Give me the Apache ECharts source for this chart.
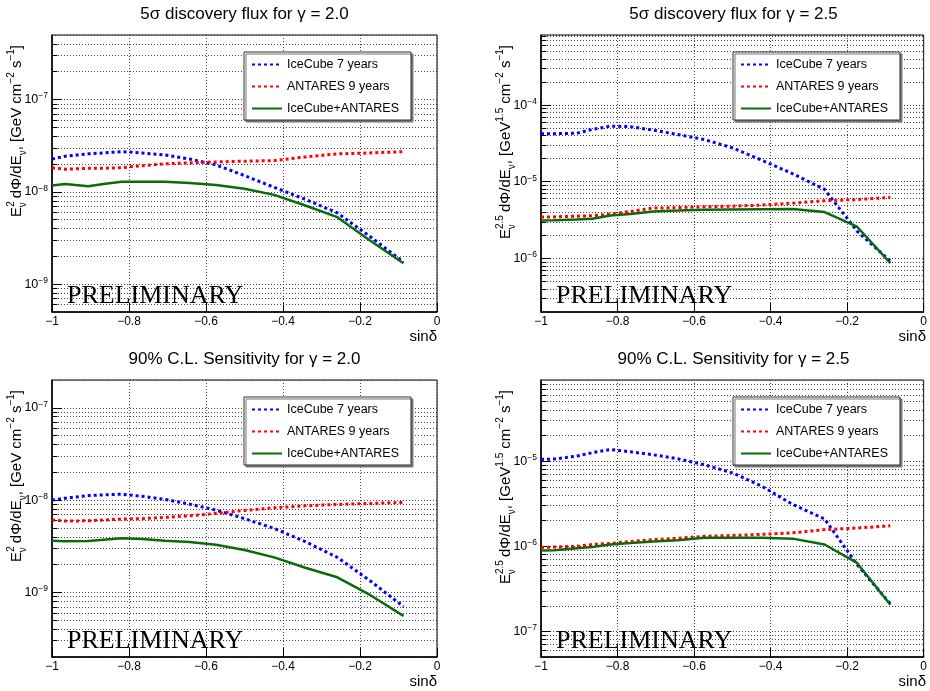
<!DOCTYPE html>
<html>
<head>
<meta charset="utf-8">
<script src="https://cdn.jsdelivr.net/npm/echarts@6/dist/echarts.min.js"></script>
<style>
html, body { margin: 0; padding: 0; background: #fff; }
#main { width: 930px; height: 691px; }
</style>
</head>
<body>
<div id="main"></div>
<script>
// sin(declination) of the computed points
var sinDec = [-1, -0.966, -0.906, -0.866, -0.819, -0.766, -0.707, -0.643, -0.574, -0.5, -0.423, -0.342, -0.259, -0.174, -0.087];

// 5 sigma discovery flux, gamma = 2.0
var ic7Disc20  = [2.27e-8, 2.43e-8, 2.58e-8, 2.64e-8, 2.73e-8, 2.64e-8, 2.51e-8, 2.27e-8, 1.96e-8, 1.5e-8, 1.12e-8, 8.3e-9, 5.93e-9, 3.29e-9, 1.74e-9];
var ant9Disc20 = [1.82e-8, 1.76e-8, 1.8e-8, 1.8e-8, 1.83e-8, 1.92e-8, 2.01e-8, 2.06e-8, 2.11e-8, 2.15e-8, 2.18e-8, 2.39e-8, 2.58e-8, 2.64e-8, 2.73e-8];
var combDisc20 = [1.17e-8, 1.22e-8, 1.15e-8, 1.22e-8, 1.29e-8, 1.29e-8, 1.29e-8, 1.25e-8, 1.19e-8, 1.08e-8, 9.28e-9, 7.11e-9, 5.32e-9, 2.98e-9, 1.69e-9];

// 5 sigma discovery flux, gamma = 2.5
var ic7Disc25  = [4.23e-5, 4.23e-5, 4.3e-5, 4.81e-5, 5.31e-5, 5.22e-5, 4.71e-5, 4.14e-5, 3.56e-5, 2.77e-5, 1.91e-5, 1.27e-5, 7.94e-6, 2.27e-6, 9.2e-7];
var ant9Disc25 = [3.46e-6, 3.48e-6, 3.56e-6, 3.6e-6, 3.79e-6, 4.1e-6, 4.53e-6, 4.6e-6, 4.72e-6, 4.8e-6, 4.96e-6, 5.26e-6, 5.65e-6, 5.85e-6, 6.24e-6];
var combDisc25 = [3.13e-6, 3.15e-6, 3.22e-6, 3.3e-6, 3.63e-6, 3.8e-6, 4.1e-6, 4.2e-6, 4.32e-6, 4.35e-6, 4.38e-6, 4.4e-6, 4.02e-6, 2.59e-6, 8.7e-7];

// 90% CL sensitivity, gamma = 2.0
var ic7Sens20  = [1.0e-8, 1.05e-8, 1.12e-8, 1.14e-8, 1.16e-8, 1.1e-8, 1.02e-8, 9.05e-9, 7.8e-9, 6.3e-9, 4.94e-9, 3.55e-9, 2.4e-9, 1.34e-9, 7.03e-10];
var ant9Sens20 = [6.08e-9, 5.93e-9, 5.98e-9, 6.08e-9, 6.24e-9, 6.3e-9, 6.5e-9, 6.77e-9, 7.18e-9, 7.74e-9, 8.26e-9, 8.68e-9, 8.98e-9, 9.2e-9, 9.44e-9];
var combSens20 = [3.63e-9, 3.58e-9, 3.6e-9, 3.72e-9, 3.86e-9, 3.8e-9, 3.63e-9, 3.52e-9, 3.29e-9, 2.88e-9, 2.4e-9, 1.85e-9, 1.46e-9, 9.4e-10, 5.57e-10];

// 90% CL sensitivity, gamma = 2.5
var ic7Sens25  = [1.05e-5, 1.06e-5, 1.15e-5, 1.26e-5, 1.37e-5, 1.29e-5, 1.19e-5, 1.07e-5, 9.1e-6, 7.3e-6, 5.08e-6, 3.1e-6, 2.1e-6, 6.1e-7, 2.1e-7];
var ant9Sens25 = [9.7e-7, 9.8e-7, 1.0e-6, 1.05e-6, 1.08e-6, 1.14e-6, 1.2e-6, 1.24e-6, 1.31e-6, 1.34e-6, 1.38e-6, 1.44e-6, 1.57e-6, 1.64e-6, 1.74e-6];
var combSens25 = [8.9e-7, 9.0e-7, 9.5e-7, 9.8e-7, 1.05e-6, 1.09e-6, 1.14e-6, 1.18e-6, 1.26e-6, 1.26e-6, 1.26e-6, 1.23e-6, 1.05e-6, 6.37e-7, 2.06e-7];

var names = ['IceCube 7 years', 'ANTARES 9 years', 'IceCube+ANTARES'];
var titles = ['5σ discovery flux for γ = 2.0', '5σ discovery flux for γ = 2.5',
              '90% C.L. Sensitivity for γ = 2.0', '90% C.L. Sensitivity for γ = 2.5'];
var yRanges = [[5e-10, 5e-7], [2e-7, 8.2e-4], [2e-10, 2e-7], [5e-8, 9e-5]];

var yTitle20 = '{t|E}{sup|2}{sb1|ν}{t| dΦ/dE}{sub|ν}{t|, [GeV cm}{sup|−2}{t| s}{sup|−1}{t|]}';
var yTitle25 = '{t|E}{sup|2.5}{sb2|ν}{t| dΦ/dE}{sub|ν}{t|, [GeV}{sup|1.5}{t| cm}{sup|−2}{t| s}{sup|−1}{t|]}';

var FONT = 'Liberation Sans';
var W = 385, H = 277;
var panels = [
    {left: 52,  top: 35,  data: [ic7Disc20, ant9Disc20, combDisc20], ytitle: yTitle20},
    {left: 541, top: 35,  data: [ic7Disc25, ant9Disc25, combDisc25], ytitle: yTitle25},
    {left: 52,  top: 380, data: [ic7Sens20, ant9Sens20, combSens20], ytitle: yTitle20},
    {left: 541, top: 380, data: [ic7Sens25, ant9Sens25, combSens25], ytitle: yTitle25}
];

var colors = ['#0000ff', '#ff0000', '#0b6b0b'];

function dotted() { return {type: [1, 2], color: '#444', width: 1}; }

function pairs(ys) {
    return sinDec.map(function (x, i) { return [x, ys[i]]; });
}

// ROOT style minor grid at 2..9 x 10^k
function minorValues(r) {
    var out = [];
    for (var k = -12; k < 0; k++) {
        for (var m = 2; m <= 9; m++) {
            var v = m * Math.pow(10, k);
            if (v > r[0] * 1.001 && v < r[1] * 0.999) out.push(v);
        }
    }
    return out;
}

function xLabel(v) {
    if (Math.abs(v) < 1e-9) return '0';
    var s = Math.abs(v).toFixed(1).replace(/\.0$/, '');
    return '−' + s;
}

function yLabel(v) {
    var e = Math.log(v) / Math.LN10;
    var k = Math.round(e);
    if (Math.abs(e - k) > 0.01) return '';
    return '{b|10}{s|' + (k < 0 ? '−' + (-k) : k) + '}';
}

var grid = [], xAxis = [], yAxis = [], series = [], title = [], legend = [], graphic = [];

panels.forEach(function (p, i) {
    grid.push({left: p.left, top: p.top, width: W, height: H, show: true,
               borderColor: '#000', borderWidth: 1, containLabel: false});

    xAxis.push({
        type: 'value', gridIndex: i, min: -1, max: 0, interval: 0.2,
        axisLine: {onZero: false, lineStyle: {color: '#000', width: 1.5}},
        axisTick: {inside: true, length: 9, lineStyle: {color: '#000'}},
        axisLabel: {formatter: xLabel, color: '#000', fontFamily: FONT, fontSize: 12, margin: 4},
        splitLine: {show: true, lineStyle: dotted()}
    });

    yAxis.push({
        type: 'log', logBase: 10, gridIndex: i, min: yRanges[i][0], max: yRanges[i][1],
        axisLine: {onZero: false, lineStyle: {color: '#000', width: 1.5}},
        axisTick: {inside: true, length: 10, lineStyle: {color: '#000'}},
        axisLabel: {
            formatter: yLabel, showMinLabel: false, showMaxLabel: false, margin: 4,
            rich: {
                b: {fontFamily: FONT, fontSize: 12.5, color: '#000', lineHeight: 16},
                s: {fontFamily: FONT, fontSize: 8.5, color: '#000', verticalAlign: 'top', lineHeight: 16, padding: [0, 0, 7, 0]}
            }
        },
        splitLine: {show: true, lineStyle: dotted()}
    });

    var minors = minorValues(yRanges[i]);
    series.push({
        type: 'line', xAxisIndex: i, yAxisIndex: i, data: [], silent: true, z: 1,
        markLine: {
            silent: true, symbol: 'none', label: {show: false}, animation: false, z: 1,
            lineStyle: dotted(),
            data: minors.map(function (v) { return [{coord: [-1, v]}, {coord: [0, v]}]; })
        }
    });
    series.push({
        type: 'line', xAxisIndex: i, yAxisIndex: i, data: [], silent: true, z: 1,
        markLine: {
            silent: true, symbol: 'none', label: {show: false}, animation: false, z: 1,
            lineStyle: {type: 'solid', color: '#000', width: 1},
            data: minors.map(function (v) { return [{coord: [-1, v]}, {coord: [-0.986, v]}]; })
        }
    });

    p.data.forEach(function (ys, j) {
        series.push({
            name: names[j], type: 'line', xAxisIndex: i, yAxisIndex: i,
            data: pairs(ys), symbol: 'none', showSymbol: false, z: 3,
            lineStyle: j < 2 ? {color: colors[j], width: 3, type: [3, 3]}
                             : {color: colors[j], width: 2.5, type: 'solid'},
            itemStyle: {color: colors[j]}
        });
    });

    title.push({
        text: titles[i], left: p.left + W / 2, top: p.top - 29, textAlign: 'center', padding: 0,
        textStyle: {fontFamily: FONT, fontSize: 17, fontWeight: 'normal', color: '#000'}
    });

    legend.push({
        data: names, orient: 'vertical', left: p.left + 192, top: p.top + 17, z: 10,
        padding: [6, 12, 5, 7], itemGap: 9, itemWidth: 30, itemHeight: 14,
        backgroundColor: '#fff', borderColor: '#333', borderWidth: 1,
        shadowColor: '#777', shadowOffsetX: 2, shadowOffsetY: 2, shadowBlur: 0,
        selectedMode: false,
        itemStyle: {opacity: 0, color: 'rgba(0,0,0,0)', borderWidth: 0},
        textStyle: {fontFamily: FONT, fontSize: 12.5, color: '#000'}
    });

    graphic.push({
        type: 'text', x: p.left + 15, y: p.top + 274, silent: true, z: 5,
        style: {text: 'PRELIMINARY', font: '26px "Liberation Serif"', fill: '#000',
                align: 'left', verticalAlign: 'bottom'}
    });
    graphic.push({
        type: 'text', x: p.left + W, y: p.top + 302, silent: true,
        style: {text: 'sinδ', font: '15px "Liberation Sans"', fill: '#000',
                align: 'right', verticalAlign: 'middle'}
    });
    graphic.push({
        type: 'text', x: p.left - 35, y: p.top + 10, rotation: Math.PI / 2, silent: true,
        style: {
            text: p.ytitle, align: 'right', verticalAlign: 'middle', fill: '#000',
            rich: {
                t: {fontFamily: FONT, fontSize: 15, lineHeight: 22, verticalAlign: 'middle'},
                sup: {fontFamily: FONT, fontSize: 10, lineHeight: 22, verticalAlign: 'top', padding: [0, 0, 8, 0]},
                sub: {fontFamily: FONT, fontSize: 10, lineHeight: 22, verticalAlign: 'bottom'},
                sb1: {fontFamily: FONT, fontSize: 10, lineHeight: 22, verticalAlign: 'bottom', padding: [0, 0, 0, -6]},
                sb2: {fontFamily: FONT, fontSize: 10, lineHeight: 22, verticalAlign: 'bottom', padding: [0, 8, 0, -14]}
            }
        }
    });
});

var chart = echarts.init(document.getElementById('main'));
chart.setOption({
    animation: false,
    backgroundColor: '#fff',
    title: title,
    legend: legend,
    grid: grid,
    xAxis: xAxis,
    yAxis: yAxis,
    series: series,
    graphic: graphic
});
</script>
</body>
</html>
